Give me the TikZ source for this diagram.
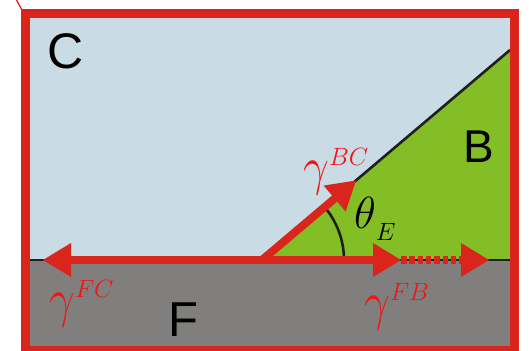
\RequirePackage{fix-cm}
\documentclass[tikz,border=0pt]{standalone}
\usepackage{graphicx}
\usepackage{fontspec}
\newfontfamily\labfont{Liberation Sans}
\usetikzlibrary{arrows.meta}
\definecolor{redframe}{RGB}{218,37,29}
\definecolor{tred}{RGB}{240,22,22}
\definecolor{cblue}{RGB}{201,220,229}
\definecolor{bgreen}{RGB}{132,190,38}
\definecolor{fgrey}{RGB}{128,127,125}
\newcommand\gsup[2]{\scalebox{0.85}[1]{\fontsize{54}{54}\selectfont$#1$}\raisebox{19pt}{\fontsize{25}{25}\selectfont$#2$}}
\begin{document}
\begin{tikzpicture}[x=1pt,y=-1pt,
  arr/.style={draw=redframe, line width=8pt, -{Triangle[length=28pt,width=34pt,line width=0pt]}},
  iface/.style={draw=black!88, line width=2.6pt},
  glab/.style={text=tred, inner sep=0pt, anchor=base west},
  region/.style={inner sep=0pt, anchor=center, font=\labfont\fontsize{50}{50}\selectfont}]
\useasboundingbox (0,0) rectangle (529,350);
% regions
\fill[cblue] (30,18) rectangle (510,260);
\fill[bgreen] (262,260) -- (510,50) -- (510,260) -- cycle;
\fill[fgrey] (30,260) rectangle (510,350);
% interfaces
\coordinate (O) at (262,260);
\coordinate (L) at (30,260);
\coordinate (R) at (510,260);
\coordinate (T) at (510,50);
\draw[iface] (L) -- (R);
\draw[iface] (O) -- (T);
\draw[iface] (344,260) arc[start angle=0,end angle=40.26,radius=82pt];
% arrows
\coordinate (fc) at (43,260);
\coordinate (bc) at (356,180.5);
\coordinate (fb1) at (401,260);
\coordinate (fb2) at (489,260);
\draw[arr] (O) -- (fc);
\draw[arr] (O) -- (bc);
\draw[arr] (O) -- (fb1);
\draw[arr, dash pattern=on 5.5pt off 2.8pt] (fb1) -- (fb2);
% frame
\draw[redframe, line width=9pt] (25.5,13.5) rectangle (514.5,350.5);
\draw[redframe, line width=1.3pt] (16,-1) -- (22,10);
% labels
\node[region] (C) at (65.5,51.5) {C};
\node[region, font=\labfont\fontsize{46}{46}\selectfont] (B) at (478.5,146.5) {B};
\node[region, font=\labfont\fontsize{49}{49}\selectfont] (F) at (183,319.5) {F};
\node[glab] (gFC) at (49,316) {\gsup{\gamma}{FC}};
\node[glab] (gFB) at (364,319) {\gsup{\gamma}{FB}};
\node[glab] (gBC) at (303,184) {\gsup{\gamma}{BC}};
\node[glab, text=black] (th) at (354,228) {\fontsize{45}{45}\selectfont$\theta$\raisebox{-12pt}{\fontsize{25}{25}\selectfont$E$}};
\end{tikzpicture}
\end{document}
